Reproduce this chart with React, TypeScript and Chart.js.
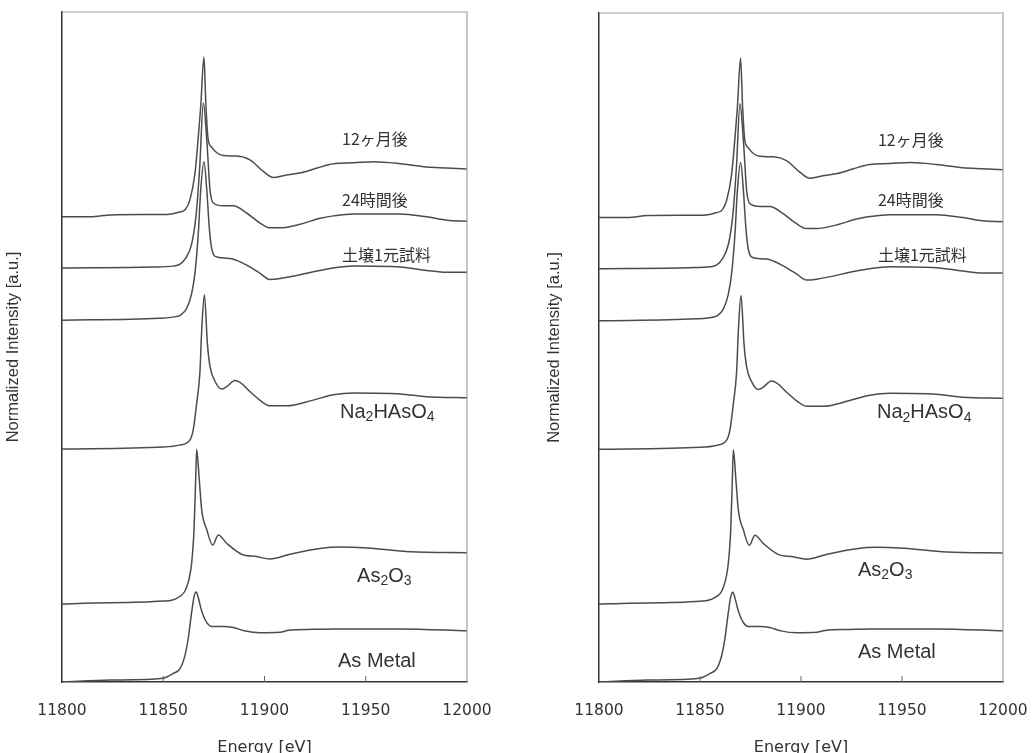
import React, { useEffect, useRef } from 'react';
import { Chart, registerables } from 'chart.js';

Chart.register(...registerables);

// ---------- data ----------
const xTicks = [11800, 11850, 11900, 11950, 12000];
const seriesNames = ['12ヶ月後', '24時間後', '土壌1元試料', 'Na₂HAsO₄', 'As₂O₃', 'As Metal'];
// vertical offsets of the stacked spectra (a.u.)
const offsets = [9.72, 8.65, 7.56, 4.87, 1.63, 0];

const e12m = [11800, 11814, 11824, 11840, 11852, 11858, 11861, 11863.2, 11865.7, 11867.2, 11868.5, 11870.1, 11871.1, 11872.2, 11873.9, 11875.6, 11879.7, 11886.3, 11892.8, 11899.4, 11904.4, 11909.3, 11918, 11926, 11934, 11944, 11954, 11967, 11980, 11990, 12000];
const v12m = [0, 0, 0.04, 0.05, 0.05, 0.1, 0.16, 0.36, 0.92, 1.61, 2.3, 3.34, 2.3, 1.61, 1.46, 1.37, 1.28, 1.27, 1.19, 0.95, 0.82, 0.86, 0.92, 1.02, 1.11, 1.13, 1.15, 1.11, 1.04, 1.02, 1.0];

const e24h = [11800, 11845, 11855, 11858.3, 11861, 11864, 11866.2, 11868, 11869.8, 11871.5, 11873.1, 11874.7, 11879.7, 11884.6, 11891.2, 11897.8, 11902.7, 11907.7, 11918, 11927.4, 11934, 11944, 11967, 11980, 11990, 12000];
const v24h = [0, 0.02, 0.04, 0.08, 0.2, 0.5, 1.1, 2.1, 3.45, 2.67, 1.63, 1.36, 1.3, 1.3, 1.15, 0.94, 0.84, 0.84, 0.92, 1.04, 1.09, 1.13, 1.13, 1.07, 1.0, 0.98];

const eSoil = [11800, 11848, 11857, 11858.3, 11861.6, 11864, 11865.7, 11867.3, 11868.5, 11870.1, 11871.5, 11872.7, 11873.9, 11876.4, 11883, 11886.3, 11891.2, 11897.8, 11902.7, 11907.7, 11927.4, 11934, 11944, 11967, 11980, 11990, 12000];
const vSoil = [0, 0.04, 0.08, 0.1, 0.25, 0.55, 1.0, 1.81, 2.72, 3.31, 2.72, 1.95, 1.5, 1.32, 1.29, 1.25, 1.15, 0.98, 0.85, 0.87, 1.04, 1.09, 1.13, 1.11, 1.04, 1.0, 1.0];

const eNa = [11800, 11850, 11858, 11863.2, 11864.8, 11866.5, 11868.1, 11869, 11870.3, 11871.8, 11873.1, 11875.6, 11878.9, 11881.3, 11885.4, 11887.9, 11892.8, 11898.6, 11902.7, 11911, 11924.1, 11934, 11944, 11967, 11980, 12000];
const vNa = [0, 0.04, 0.08, 0.19, 0.4, 0.95, 1.6, 2.49, 3.22, 2.2, 1.72, 1.41, 1.25, 1.3, 1.43, 1.39, 1.2, 0.99, 0.9, 0.9, 1.02, 1.13, 1.17, 1.15, 1.09, 1.07];

const eAs2O3 = [11800, 11815, 11850, 11857, 11861.6, 11864, 11865.2, 11866, 11866.5, 11867.8, 11869, 11871.5, 11874.4, 11877.2, 11881.3, 11888.7, 11896.1, 11902.7, 11912.6, 11927.4, 11937, 11951, 11972, 12000];
const vAs2O3 = [0, 0.02, 0.06, 0.13, 0.36, 0.85, 1.55, 2.59, 3.23, 2.59, 1.96, 1.55, 1.23, 1.44, 1.27, 1.04, 0.99, 0.94, 1.04, 1.16, 1.19, 1.17, 1.09, 1.07];

const eMetal = [11800, 11824, 11850, 11855, 11858.3, 11860.7, 11862.4, 11864, 11865.2, 11866.3, 11867.3, 11869, 11871.5, 11874, 11879.7, 11884.5, 11890, 11897.8, 11907.7, 11912, 11924.1, 11934, 11967, 12000];
const vMetal = [0, 0.04, 0.08, 0.18, 0.28, 0.55, 0.93, 1.45, 1.78, 1.88, 1.76, 1.48, 1.24, 1.16, 1.16, 1.14, 1.07, 1.03, 1.04, 1.08, 1.1, 1.11, 1.11, 1.07];

const energies = [e12m, e24h, eSoil, eNa, eAs2O3, eMetal];
const intensities = [v12m, v24h, vSoil, vNa, vAs2O3, vMetal];

// label anchors (energy, stacked intensity) per panel
const leftLabelE = [11938.3, 11938.3, 11938.3, 11937.3, 11945.7, 11936.3];
const leftLabelY = [11.35, 10.07, 8.92, 5.64, 2.21, 0.42];
const rightLabelE = [11938.1, 11938.1, 11938.1, 11937.6, 11928.2, 11928.2];
const rightLabelY = [11.34, 10.09, 8.93, 5.63, 2.34, 0.61];

// ---------- styles ----------
const LINE = '#4c4c4c';
const TEXT = '#333333';
const SUBS: Record<string, string> = { '₀': '0', '₁': '1', '₂': '2', '₃': '3', '₄': '4', '₅': '5', '₆': '6', '₇': '7', '₈': '8', '₉': '9' };

const labelPlugin = {
  id: 'seriesLabels',
  afterDatasetsDraw(chart: any, _args: any, opts: any) {
    const { ctx, scales } = chart;
    const xs = scales.x;
    const ys = scales.y;
    (opts.items || []).forEach((it: any) => {
      let px = xs.getPixelForValue(it.e);
      const py = ys.getPixelForValue(it.v);
      const cjk = /[\u3000-\u9fff]/.test(it.text);
      ctx.save();
      ctx.fillStyle = TEXT;
      ctx.textBaseline = 'middle';
      ctx.textAlign = 'left';
      const mainFont = cjk ? '16px "Noto Sans CJK JP"' : '20px "Liberation Sans", Arial, sans-serif';
      const subFont = '14px "Liberation Sans", Arial, sans-serif';
      for (const ch of Array.from(it.text as string)) {
        if (SUBS[ch]) {
          ctx.font = subFont;
          ctx.fillText(SUBS[ch], px, py + 5);
          px += ctx.measureText(SUBS[ch]).width;
        } else {
          ctx.font = mainFont;
          ctx.fillText(ch, px, py);
          px += ctx.measureText(ch).width;
        }
      }
      ctx.restore();
    });
  },
};

const framePlugin = {
  id: 'frame',
  afterDraw(chart: any) {
    const { ctx, chartArea, scales } = chart;
    const { left, right, top, bottom } = chartArea;
    ctx.save();
    ctx.strokeStyle = '#a0a0a0';
    ctx.lineWidth = 1.2;
    ctx.beginPath();
    ctx.moveTo(left, top);
    ctx.lineTo(right, top);
    ctx.lineTo(right, bottom);
    ctx.stroke();
    ctx.strokeStyle = '#666';
    ctx.lineWidth = 1;
    ctx.beginPath();
    xTicks.forEach((v) => {
      const px = scales.x.getPixelForValue(v);
      if (px > left + 2 && px < right - 2) {
        ctx.moveTo(px, bottom);
        ctx.lineTo(px, bottom - 6);
      }
    });
    ctx.stroke();
    ctx.restore();
  },
};

type PanelProps = {
  left: number;
  width: number;
  padTop: number;
  padRight: number;
  yTitlePad: number;
  labelE: number[];
  labelY: number[];
};

function Panel({ left, width, padTop, padRight, yTitlePad, labelE, labelY }: PanelProps) {
  const ref = useRef<HTMLCanvasElement | null>(null);
  useEffect(() => {
    if (!ref.current) return;
    const datasets = seriesNames.map((name, i) => ({
      label: name,
      data: energies[i].map((e, j) => ({ x: e, y: intensities[i][j] + offsets[i] })),
      borderColor: LINE,
      borderWidth: 1.5,
      pointRadius: 0,
      fill: false,
      cubicInterpolationMode: 'monotone' as const,
    }));
    const items = seriesNames.map((t, i) => ({ text: t, e: labelE[i], v: labelY[i] }));
    const chart = new Chart(ref.current, {
      type: 'line',
      data: { datasets },
      options: {
        animation: false,
        responsive: false,
        layout: { padding: { top: padTop, right: padRight, left: 0, bottom: 0 } },
        plugins: {
          legend: { display: false },
          tooltip: { enabled: false },
          // @ts-ignore
          seriesLabels: { items },
        },
        scales: {
          x: {
            type: 'linear',
            min: 11800,
            max: 12000,
            afterBuildTicks: (s: any) => {
              s.ticks = xTicks.map((v) => ({ value: v }));
            },
            ticks: {
              color: TEXT,
              font: { family: '"DejaVu Sans"', size: 15.5 },
              padding: 20,
              maxRotation: 0,
              autoSkip: false,
              callback: (v: any) => String(v),
            },
            grid: { display: false, drawTicks: false },
            border: { display: true, color: '#333', width: 1.5 },
            title: {
              display: true,
              text: 'Energy [eV]',
              color: TEXT,
              font: { family: '"DejaVu Sans"', size: 16, lineHeight: 0.6 },
              padding: 0,
            },
            afterFit: (s: any) => {
              s.height = 71;
              s.paddingLeft = 0;
              s.paddingRight = 0;
            },
          },
          y: {
            type: 'linear',
            min: 0,
            max: 14,
            ticks: { display: false },
            grid: { display: false, drawTicks: false },
            border: { display: true, color: '#333', width: 1.5 },
            title: {
              display: true,
              text: 'Normalized Intensity [a.u.]',
              color: TEXT,
              font: { family: '"Liberation Sans"', size: 16.5 },
              padding: { top: yTitlePad, bottom: 0 },
            },
            afterFit: (s: any) => {
              s.width = 62;
              s.paddingTop = 0;
              s.paddingBottom = 0;
            },
          },
        },
      },
      plugins: [labelPlugin, framePlugin],
    } as any);
    return () => chart.destroy();
  }, []);
  return (
    <div style={{ position: 'absolute', left, top: 0, width, height: 753 }}>
      <canvas ref={ref} width={width} height={753} style={{ width, height: 753, display: 'block' }} />
    </div>
  );
}

export default function App() {
  return (
    <div style={{ position: 'absolute', left: 0, top: 0, width: 1033, height: 753, background: '#fff', overflow: 'hidden' }}>
      <Panel left={0} width={516} padTop={12} padRight={49} yTitlePad={4} labelE={leftLabelE} labelY={leftLabelY} />
      <Panel left={537} width={496} padTop={13} padRight={30} yTitlePad={8} labelE={rightLabelE} labelY={rightLabelY} />
    </div>
  );
}
